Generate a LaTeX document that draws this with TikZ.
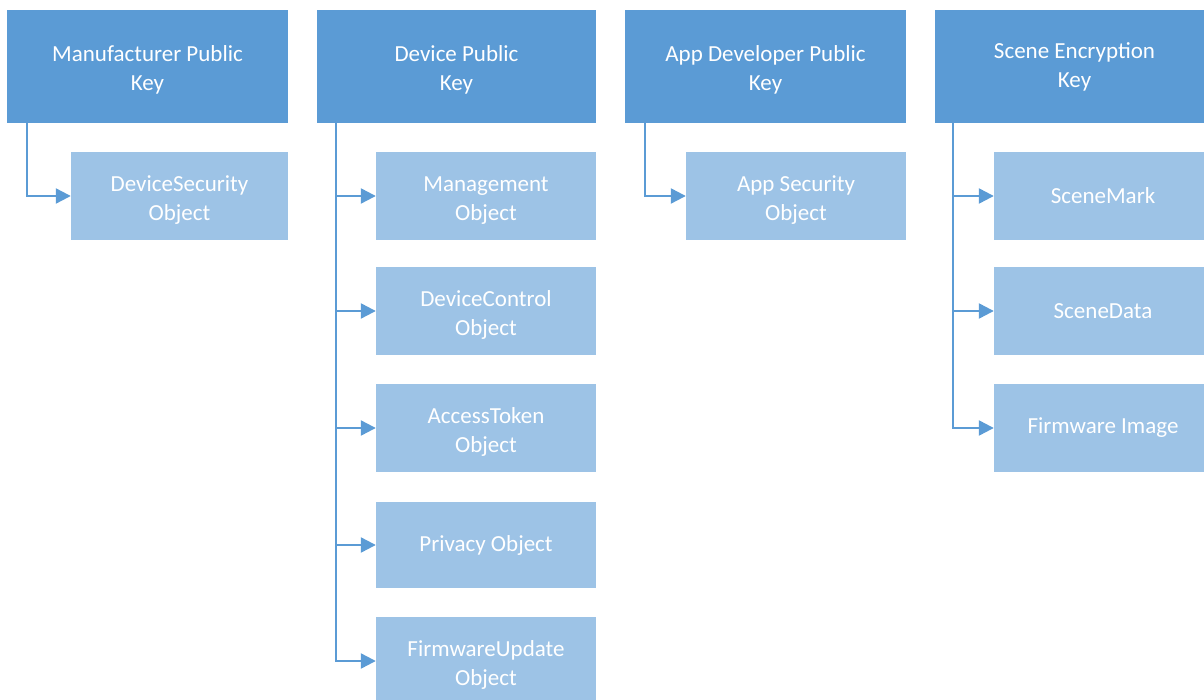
\documentclass[tikz,border=0pt]{standalone}
\usepackage{fontspec}
\setmainfont{Carlito}
\usetikzlibrary{arrows.meta}

\definecolor{keyblue}{HTML}{5B9BD5}
\definecolor{objblue}{HTML}{9DC3E6}

% taller first line, sets two-line labels a little lower
\newcommand{\tallstrut}{\rule{0pt}{23pt}}

\tikzset{
  keybox/.style={fill=keyblue, text=white, align=center, minimum height=113pt, inner sep=0pt,
    font=\fontsize{23}{29}\selectfont},
  objbox/.style={fill=objblue, text=white, align=center, minimum height=88pt, inner sep=0pt,
    font=\fontsize{23}{29}\selectfont},
  link/.style={draw=keyblue, line width=2.3pt, -{Triangle[length=15pt,width=15pt]}}
}

\begin{document}
\begin{tikzpicture}[x=1pt,y=-1pt]
            \useasboundingbox (0,0) rectangle (1204,700);

            \node[keybox, minimum width=281pt] (mfk) at (147.5,66.5) {\tallstrut Manufacturer Public\\Key};
            \node[keybox, minimum width=279pt] (dvk) at (456.5,66.5) {\tallstrut Device Public\\Key};
            \node[keybox, minimum width=281pt] (adk) at (765.5,66.5) {\tallstrut App Developer Public\\Key};
            \node[keybox, minimum width=279pt] (sek) at (1074.5,66.5) {Scene Encryption\\Key};

            \node[objbox, minimum width=217pt] (dso) at (179.5,196) {\tallstrut DeviceSecurity\\Object};

            \node[objbox, minimum width=220pt] (mgo) at (486,196) {\tallstrut Management\\Object};
            \node[objbox, minimum width=220pt] (dco) at (486,311) {\tallstrut DeviceControl\\Object};
            \node[objbox, minimum width=220pt] (ato) at (486,428) {\tallstrut AccessToken\\Object};
            \node[objbox, minimum width=220pt, minimum height=86pt] (pvo) at (486,545) {Privacy Object};
            \node[objbox, minimum width=220pt] (fuo) at (486,661) {\tallstrut FirmwareUpdate\\Object};

            \node[objbox, minimum width=220pt] (aso) at (796,196) {\tallstrut App Security\\Object};

            \node[objbox, minimum width=218pt] (smk) at (1103,196) {SceneMark};
            \node[objbox, minimum width=218pt] (sdt) at (1103,311) {SceneData};
            \node[objbox, minimum width=218pt] (fwi) at (1103,428) {Firmware Image};

            \draw[link] ([xshift=20pt]mfk.south west) |- (dso);

            \draw[keyblue, line width=2.3pt] ([xshift=19pt]dvk.south west) -- ([xshift=19pt]dvk.south west |- fuo);
            \draw[link] ([xshift=19pt]dvk.south west |- mgo) -- (mgo);
            \draw[link] ([xshift=19pt]dvk.south west |- dco) -- (dco);
            \draw[link] ([xshift=19pt]dvk.south west |- ato) -- (ato);
            \draw[link] ([xshift=19pt]dvk.south west |- pvo) -- (pvo);
            \draw[link] ([xshift=19pt]dvk.south west) |- (fuo);

            \draw[link] ([xshift=20pt]adk.south west) |- (aso);

            \draw[keyblue, line width=2.3pt] ([xshift=18pt]sek.south west) -- ([xshift=18pt]sek.south west |- fwi);
            \draw[link] ([xshift=18pt]sek.south west |- smk) -- (smk);
            \draw[link] ([xshift=18pt]sek.south west |- sdt) -- (sdt);
            \draw[link] ([xshift=18pt]sek.south west) |- (fwi);
        \end{tikzpicture}
\end{document}
